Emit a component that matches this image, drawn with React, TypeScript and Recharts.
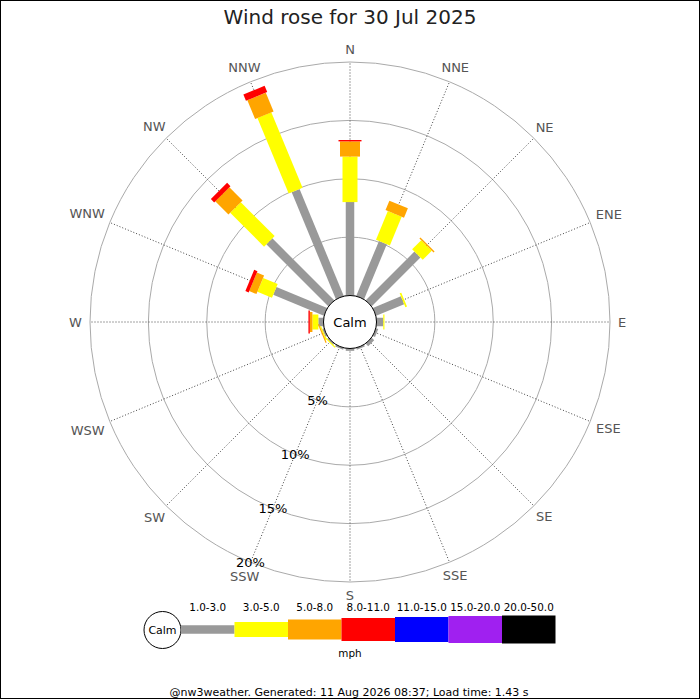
import React from 'react';
import { RadialBarChart, RadialBar, PolarAngleAxis, PolarRadiusAxis, PolarGrid } from 'recharts';

// ---------- data ----------
const directions = ['N', 'NNE', 'NE', 'ENE', 'E', 'ESE', 'SE', 'SSE', 'S', 'SSW', 'SW', 'WSW', 'W', 'WNW', 'NW', 'NNW'];
const speedClasses = ['1.0-3.0', '3.0-5.0', '5.0-8.0', '8.0-11.0', '11.0-15.0', '15.0-20.0', '20.0-50.0'];

// percentage of time per direction, per speed class (mph)
const pct1to3 = [8.0, 5.1, 5.9, 2.6, 0.58, 0.2, 0.3, 0.15, 0.2, 0.15, 0.12, 0.15, 0.44, 4.7, 7.5, 9.9];
const pct3to5 = [3.9, 2.65, 1.1, 0.15, 0.1, 0, 0, 0, 0, 0, 0.1, 0.1, 0.51, 1.35, 4.1, 7.0];
const pct5to8 = [1.3, 0.87, 0.12, 0, 0, 0, 0, 0, 0, 0, 0, 0.1, 0.22, 0.67, 1.6, 1.74];
const pct8to11 = [0.12, 0, 0, 0, 0, 0, 0, 0, 0, 0, 0, 0, 0.12, 0.3, 0.4, 0.58];
const pct11to15 = [0, 0, 0, 0, 0, 0, 0, 0, 0, 0, 0, 0, 0, 0, 0, 0];
const pct15to20 = [0, 0, 0, 0, 0, 0, 0, 0, 0, 0, 0, 0, 0, 0, 0, 0];
const pct20to50 = [0, 0, 0, 0, 0, 0, 0, 0, 0, 0, 0, 0, 0, 0, 0, 0];

const radiusTicks = [0, 5, 10, 15, 20];

const titleText = 'Wind rose for 30 Jul 2025';
const unitText = 'mph';
const footerText = '@nw3weather. Generated: 11 Aug 2026 08:37; Load time: 1.43 s';

const seriesValues = [pct1to3, pct3to5, pct5to8, pct8to11, pct11to15, pct15to20, pct20to50];

// ---------- styles ----------
const COLORS = ['#999999', '#ffff00', '#ffa500', '#ff0000', '#0000ff', '#a020f0', '#000000'];
const WIDTHS = [8.5, 15, 20, 23, 25, 27, 28];
const FONT = '"DejaVu Sans", Verdana, sans-serif';

const CX = 350;
const CY = 322;
const INNER_R = 26.5;
const OUTER_R = 260;

const data = directions.map((dir, i) => {
  const row: Record<string, any> = { dir };
  seriesValues.forEach((arr, k) => {
    row['s' + k] = arr[i];
  });
  return row;
});

// Bar drawn as a constant-width rectangle along the category's tick angle
// (with barCategoryGap 0 the sector starts exactly at the tick angle).
function makeBarShape(width: number) {
  return (props: any) => {
    const { cx, cy, innerRadius, outerRadius, startAngle, fill } = props;
    if (!(outerRadius - innerRadius > 0.05)) return <g />;
    const a = (startAngle * Math.PI) / 180;
    const ux = Math.cos(a);
    const uy = -Math.sin(a);
    const px = -uy;
    const py = ux;
    const h = width / 2;
    const pts = [
      [cx + ux * innerRadius + px * h, cy + uy * innerRadius + py * h],
      [cx + ux * outerRadius + px * h, cy + uy * outerRadius + py * h],
      [cx + ux * outerRadius - px * h, cy + uy * outerRadius - py * h],
      [cx + ux * innerRadius - px * h, cy + uy * innerRadius - py * h],
    ];
    return <polygon points={pts.map((p) => p.join(',')).join(' ')} fill={fill} stroke="none" />;
  };
}

const charW: Record<string, number> = { N: 9.7, E: 8.2, S: 8.3, W: 12.9 };

const AngleTick = (props: any) => {
  const { x, y, payload } = props;
  const label = String(payload.value);
  const theta = (payload.coordinate * Math.PI) / 180;
  const hw = label.split('').reduce((s, c) => s + (charW[c] || 9), 0) / 2;
  const hh = 5;
  const off = Math.sqrt((Math.cos(theta) * hw) ** 2 + (Math.sin(theta) * hh) ** 2);
  return (
    <text
      x={x + Math.cos(theta) * off}
      y={y - Math.sin(theta) * off}
      textAnchor="middle"
      dominantBaseline="central"
      fontSize={13}
      fontFamily={FONT}
      fill="#555555"
    >
      {label}
    </text>
  );
};

const RadiusTick = (props: any) => {
  const { x, y, payload } = props;
  if (!payload || Number(payload.value) === 0) return <g />;
  return (
    <text x={x} y={y} textAnchor="middle" dominantBaseline="central" fontSize={13} fontFamily={FONT} fill="#000000">
      {payload.value}%
    </text>
  );
};

const Overlay = () => {
  const legX0 = 181;
  const segW = 53.5;
  const legY = 629.5;
  return (
    <svg
      width={700}
      height={700}
      style={{ position: 'absolute', left: 0, top: 0, pointerEvents: 'none' }}
      fontFamily={FONT}
    >
      <rect x={0.5} y={0.5} width={699} height={698} fill="none" stroke="#000" strokeWidth={1} />
      <text x={350} y={17} textAnchor="middle" dominantBaseline="central" fontSize={20} fill="#222">
        {titleText}
      </text>
      {/* calm circle */}
      <circle cx={CX} cy={CY} r={INNER_R} fill="#fff" stroke="#000" strokeWidth={1} />
      <text x={CX} y={CY} textAnchor="middle" dominantBaseline="central" fontSize={13} fill="#000">
        Calm
      </text>
      {/* legend */}
      <circle cx={162.5} cy={630} r={18.5} fill="#fff" stroke="#000" strokeWidth={1} />
      <text x={162.5} y={630} textAnchor="middle" dominantBaseline="central" fontSize={11} fill="#000">
        Calm
      </text>
      {speedClasses.map((lab, k) => (
        <g key={lab}>
          <rect
            x={legX0 + k * segW}
            y={legY - WIDTHS[k] / 2}
            width={segW}
            height={WIDTHS[k]}
            fill={COLORS[k]}
          />
          <text
            x={legX0 + k * segW + segW / 2}
            y={607}
            textAnchor="middle"
            dominantBaseline="central"
            fontSize={10.4}
            fill="#000"
          >
            {lab}
          </text>
        </g>
      ))}
      <text x={350} y={653} textAnchor="middle" dominantBaseline="central" fontSize={10.4} fill="#000">
        {unitText}
      </text>
      <text x={349} y={692} textAnchor="middle" dominantBaseline="central" fontSize={11} fill="#000">
        {footerText}
      </text>
    </svg>
  );
};

export default function App() {
  return (
    <div style={{ position: 'absolute', left: 0, top: 0, width: 700, height: 700, background: '#fff', fontFamily: FONT }}>
      <RadialBarChart
        width={700}
        height={700}
        data={data}
        cx={CX}
        cy={CY}
        innerRadius={INNER_R}
        outerRadius={OUTER_R}
        startAngle={90}
        endAngle={-270}
        layout="centric"
        margin={{ top: 0, right: 0, bottom: 0, left: 0 }}
        barCategoryGap={0}
        barGap={0}
      >
        <PolarGrid gridType="circle" radialLines={false} stroke="#aaaaaa" strokeWidth={1} />
        <PolarGrid gridType="circle" polarRadius={[]} stroke="#444444" strokeWidth={1} strokeDasharray="1 2" />
        <PolarAngleAxis
          type="category"
          dataKey="dir"
          axisLine={false}
          tickLine={false}
          tick={<AngleTick />}
        />
        <PolarRadiusAxis
          type="number"
          domain={[0, 20]}
          ticks={radiusTicks}
          tickCount={5}
          angle={-112.5}
          axisLine={false}
          tickLine={false}
          tick={<RadiusTick />}
        />
        {seriesValues.map((_, k) => (
          <RadialBar
            key={k}
            dataKey={'s' + k}
            stackId="a"
            fill={COLORS[k]}
            isAnimationActive={false}
            shape={makeBarShape(WIDTHS[k])}
          />
        ))}
      </RadialBarChart>
      <Overlay />
    </div>
  );
}
